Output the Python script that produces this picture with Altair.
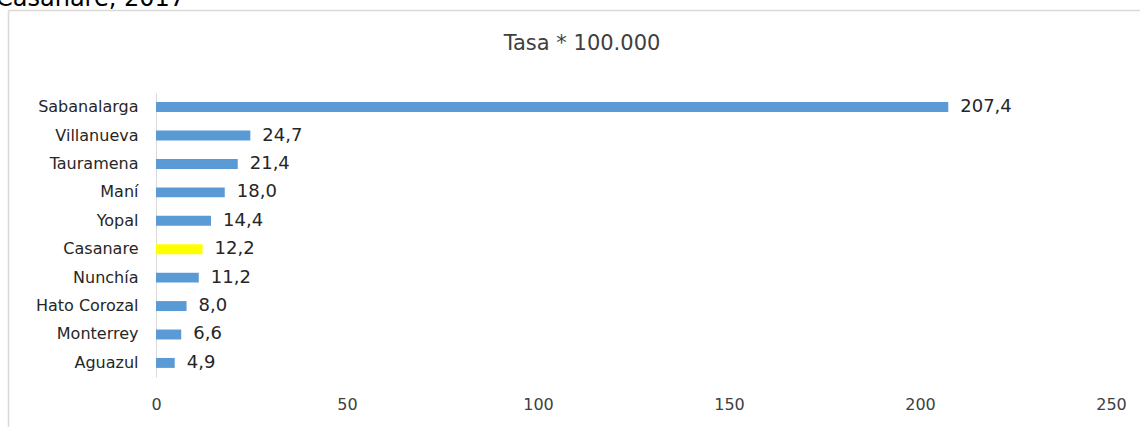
import altair as alt
import pandas as pd

# Tasa por 100.000 habitantes, municipios de Casanare 2017
municipios = ["Sabanalarga", "Villanueva", "Tauramena", "Maní", "Yopal",
              "Casanare", "Nunchía", "Hato Corozal", "Monterrey", "Aguazul"]
tasas = [207.4, 24.7, 21.4, 18.0, 14.4, 12.2, 11.2, 8.0, 6.6, 4.9]
etiquetas = ["207,4", "24,7", "21,4", "18,0", "14,4", "12,2", "11,2", "8,0", "6,6", "4,9"]
colores = ["#5B9BD5", "#5B9BD5", "#5B9BD5", "#5B9BD5", "#5B9BD5",
           "#FFFF00", "#5B9BD5", "#5B9BD5", "#5B9BD5", "#5B9BD5"]
ticks_x = [0, 50, 100, 150, 200, 250]

df = pd.DataFrame({"municipio": municipios, "tasa": tasas,
                   "etiqueta": etiquetas, "color": colores})

FONT = "DejaVu Sans"
W, H = 955, 284
PAD_L, PAD_T = 156, 93

y_enc = alt.Y("municipio:N", sort=municipios, title=None,
              scale=alt.Scale(paddingInner=0.65, paddingOuter=0.32),
              axis=alt.Axis(domainColor="#D9D9D9", domainWidth=1, ticks=False,
                            labelFont=FONT, labelFontSize=16, labelColor="#262626",
                            labelPadding=18))
x_enc = alt.X("tasa:Q", title=None,
              scale=alt.Scale(domain=[0, 250], nice=False),
              axis=alt.Axis(values=ticks_x, grid=False, domain=False, ticks=False,
                            labelFont=FONT, labelFontSize=16, labelColor="#404040",
                            labelPadding=19, labelFlush=False))

bars = alt.Chart(df).mark_bar().encode(
    x=x_enc, y=y_enc,
    color=alt.Color("color:N", scale=None),
)

labels = alt.Chart(df).mark_text(
    align="left", baseline="middle", dx=12, font=FONT, fontSize=18, color="#262626"
).encode(x="tasa:Q", y=alt.Y("municipio:N", sort=municipios), text="etiqueta:N")

# Borde del área del gráfico
border = alt.Chart(df.head(1)).mark_rule(color="#D9D9D9", strokeWidth=1.5).encode(
    x=alt.value(-PAD_L + 8.5), x2=alt.value(W + 200),
    y=alt.value(-PAD_T + 10.5))
border_left = alt.Chart(df.head(1)).mark_rule(color="#D9D9D9", strokeWidth=1.5).encode(
    x=alt.value(-PAD_L + 8.5),
    y=alt.value(-PAD_T + 10.5), y2=alt.value(H + 100))

# Título del gráfico
titulo = alt.Chart(df.head(1)).mark_text(
    align="center", baseline="alphabetic", font=FONT, fontSize=21, color="#404040"
).encode(x=alt.value(582 - PAD_L), y=alt.value(50 - PAD_T),
         text=alt.value("Tasa * 100.000"))

# Línea superior del encabezado
encabezado = alt.Chart(df.head(1)).mark_text(
    align="left", baseline="alphabetic", font=FONT, fontSize=24, color="#000000"
).encode(x=alt.value(-PAD_L - 4), y=alt.value(6 - PAD_T),
         text=alt.value("Casanare, 2017"))

chart = alt.layer(border, border_left, bars, labels, titulo, encabezado).properties(
    width=W, height=H,
    background="white",
    autosize=alt.AutoSizeParams(type="none"),
    padding={"left": PAD_L, "top": PAD_T, "right": 1140 - PAD_L - W,
             "bottom": 427 - PAD_T - H},
).configure_view(strokeWidth=0)

chart.save("out.html", embed_options={"renderer": "svg", "actions": False})
